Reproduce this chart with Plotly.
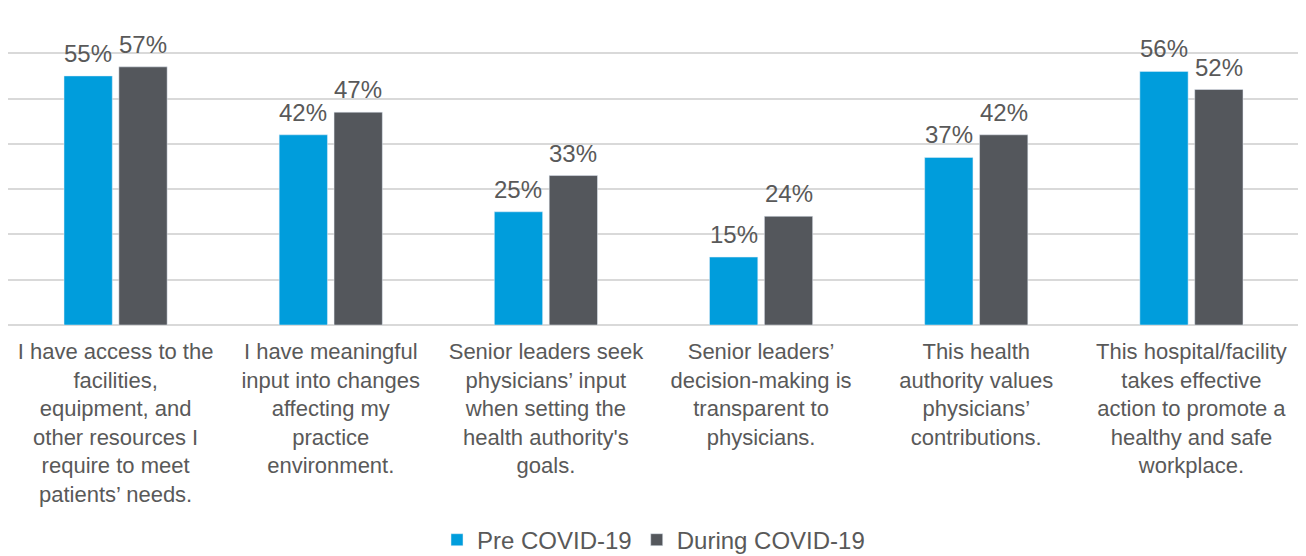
import plotly.graph_objects as go

categories = [
    "I have access to the<br>facilities,<br>equipment, and<br>other resources I<br>require to meet<br>patients’ needs.",
    "I have meaningful<br>input into changes<br>affecting my<br>practice<br>environment.",
    "Senior leaders seek<br>physicians’ input<br>when setting the<br>health authority's<br>goals.",
    "Senior leaders’<br>decision-making is<br>transparent to<br>physicians.",
    "This health<br>authority values<br>physicians’<br>contributions.",
    "This hospital/facility<br>takes effective<br>action to promote a<br>healthy and safe<br>workplace.",
]
pre_covid = [55, 42, 25, 15, 37, 56]
during_covid = [57, 47, 33, 24, 42, 52]

txt = "#595959"
font = "Liberation Sans, Arial, sans-serif"

fig = go.Figure()
fig.add_trace(go.Bar(x=categories, y=pre_covid, name="Pre COVID-19", marker_color="#009DDC"))
fig.add_trace(go.Bar(x=categories, y=during_covid, name="During COVID-19", marker_color="#54575C"))

# value labels, lifted a bit more than plotly's default outside text
for vals, shift in [(pre_covid, -27.5), (during_covid, 27.5)]:
    for c, v in zip(categories, vals):
        fig.add_annotation(x=c, y=v, text=f"{v}%", showarrow=False,
                           xshift=shift, yshift=7, yanchor="bottom",
                           font=dict(size=24, color=txt, family=font))

# page body has an 8px margin, so the figure is 8px smaller than the window
fig.update_layout(
    width=1298, height=548,
    margin=dict(l=0, r=7, t=0, b=231, autoexpand=False),
    paper_bgcolor="white", plot_bgcolor="white",
    barmode="group", bargap=0.49, bargroupgap=0.12,
    font=dict(family=font, color=txt, size=22),
    showlegend=True,
    legend=dict(orientation="h", x=0.5, xanchor="center", yref="container", y=0.029,
                yanchor="middle", font=dict(size=24, color=txt), traceorder="normal"),
)
fig.update_yaxes(range=[0, 70], dtick=10, showticklabels=False,
                 gridcolor="#D9D9D9", gridwidth=1.5, zeroline=True,
                 zerolinecolor="#D9D9D9", zerolinewidth=1.5, automargin=False)
fig.update_xaxes(tickfont=dict(size=22, color=txt), tickangle=0, showline=False,
                 ticklabelstandoff=11, automargin=False)

fig.write_html("out.html")
